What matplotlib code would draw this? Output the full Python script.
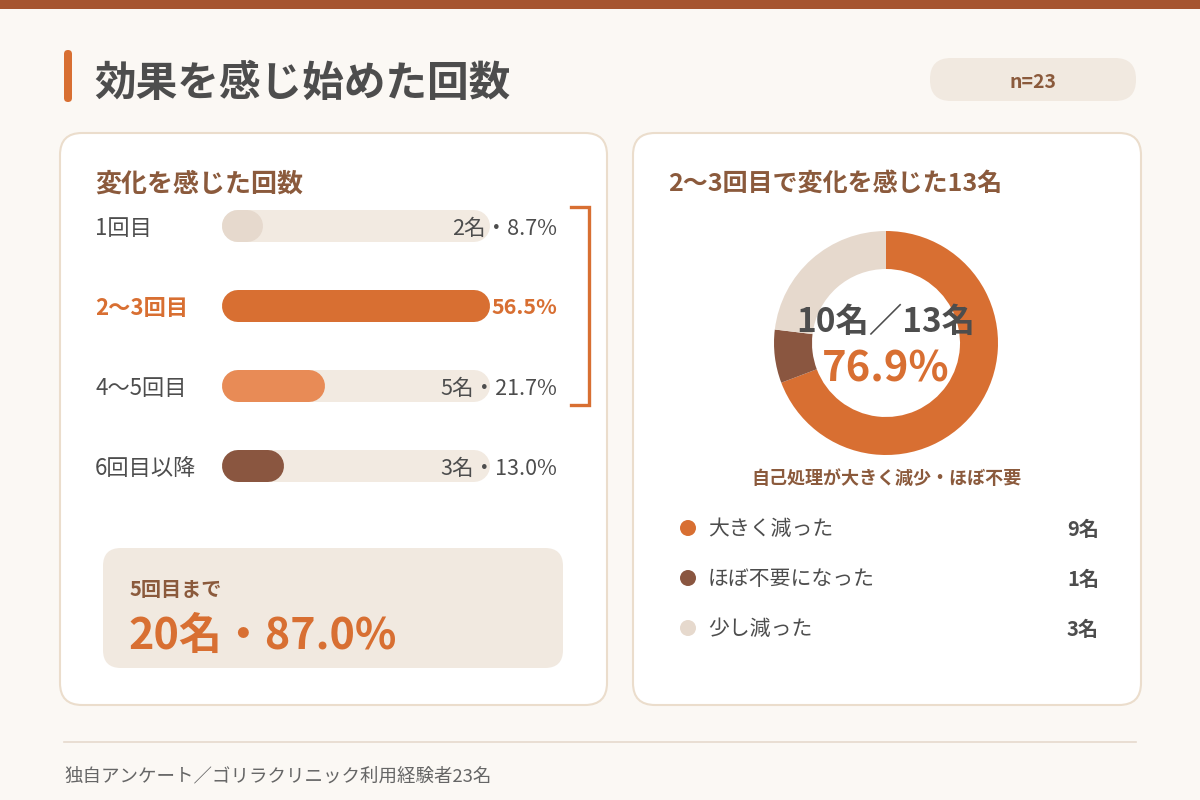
import matplotlib
matplotlib.use("Agg")
import matplotlib.pyplot as plt
from matplotlib.patches import FancyBboxPatch, Circle
from matplotlib.transforms import blended_transform_factory

plt.rcParams['font.family'] = ['Noto Sans CJK JP', 'DejaVu Sans']

# ---------------- data ----------------
title = "効果を感じ始めた回数"
n_label = "n=23"
bar_heading = "変化を感じた回数"
bar_categories = ["1回目", "2〜3回目", "4〜5回目", "6回目以降"]
bar_counts = [2, 13, 5, 3]
bar_percents = [8.7, 56.5, 21.7, 13.0]
bar_value_labels = ["2名・8.7%", "56.5%", "5名・21.7%", "3名・13.0%"]
highlight_index = 1
summary_label = "5回目まで"
summary_value = "20名・87.0%"

donut_heading = "2〜3回目で変化を感じた13名"
donut_labels = ["大きく減った", "ほぼ不要になった", "少し減った"]
donut_counts = [9, 1, 3]
donut_center_top = "10名／13名"
donut_center_pct = "76.9%"
donut_caption = "自己処理が大きく減少・ほぼ不要"
footer = "独自アンケート／ゴリラクリニック利用経験者23名"

# ---------------- colours ----------------
BG = "#FBF8F4"
TOPBAR = "#A65530"
ORANGE = "#D86F32"
LIGHT_ORANGE = "#E88B56"
DARK_BROWN = "#8A5640"
BEIGE = "#E6D9CD"
TRACK = "#F2EAE1"
BROWN_TXT = "#8B5A3C"
GRAY_TXT = "#4D4D4D"
BORDER = "#EBDDCC"

bar_colors = [BEIGE, ORANGE, LIGHT_ORANGE, DARK_BROWN]
donut_colors = [ORANGE, DARK_BROWN, BEIGE]

W, H = 1200, 800
fig = plt.figure(figsize=(12, 8), dpi=100, facecolor=BG)
main = fig.add_axes([0, 0, 1, 1])
main.set_xlim(0, W)
main.set_ylim(H, 0)
main.axis("off")
main.set_facecolor(BG)


def rbox(x, y, w, h, r, fc, ec="none", lw=0, z=1):
    p = FancyBboxPatch((x, y), w, h, boxstyle=f"round,pad=0,rounding_size={r}",
                       fc=fc, ec=ec, lw=lw, zorder=z)
    main.add_patch(p)
    return p


# top band
main.add_patch(plt.Rectangle((0, 0), W, 9, fc=TOPBAR, ec="none", zorder=2))

# cards / boxes
rbox(64, 50, 8, 52, 4, ORANGE, z=2)
rbox(930, 58, 206, 43, 21, "#F1E9E0", z=2)
rbox(60, 133, 547, 572, 22, "white", BORDER, 1.5, z=1)
rbox(633, 133, 508, 572, 22, "white", BORDER, 1.5, z=1)
rbox(103, 548, 460, 120, 18, "#F1E9E0", z=2)

# bracket over rows 0..2
main.plot([571, 589, 589, 571], [207, 207, 405, 405], color=ORANGE, lw=2.4,
          solid_joinstyle="miter", zorder=3)
# footer line
main.plot([64, 1136], [742, 742], color="#E6D9CD", lw=1.2, zorder=2)

# ---------------- bars ----------------
bx0, bx1 = 222, 490
by0, by1 = 186, 506
bar_ax = fig.add_axes([bx0 / W, 1 - by1 / H, (bx1 - bx0) / W, (by1 - by0) / H])
bar_ax.axis("off")
bar_ax.patch.set_alpha(0)
xmax = max(bar_percents)
bar_ax.set_xlim(0, xmax)
bar_ax.set_ylim(len(bar_categories) - 0.5, -0.5)

bar_h_px = 32
lw_pt = bar_h_px * 72 / 100
r_data = (bar_h_px / 2) * xmax / (bx1 - bx0)
for i, (v, c) in enumerate(zip(bar_percents, bar_colors)):
    bar_ax.plot([r_data, xmax - r_data], [i, i], color=TRACK, lw=lw_pt,
                solid_capstyle="round", zorder=1)
    bar_ax.plot([r_data, max(v - r_data, r_data + 1e-6)], [i, i], color=c, lw=lw_pt,
                solid_capstyle="round", zorder=2)

# ---------------- donut ----------------
cx, cy, R = 886, 343, 112
d_ax = fig.add_axes([(cx - R) / W, 1 - (cy + R) / H, 2 * R / W, 2 * R / H])
d_ax.pie(donut_counts, colors=donut_colors, startangle=90, counterclock=False,
         radius=1, wedgeprops=dict(width=38 / 112, edgecolor="none"))
d_ax.set_xlim(-1, 1)
d_ax.set_ylim(-1, 1)
d_ax.set_aspect("equal")
d_ax.axis("off")

# ---------------- overlay for all text ----------------
top = fig.add_axes([0, 0, 1, 1])
top.set_xlim(0, W)
top.set_ylim(H, 0)
top.axis("off")
top.patch.set_alpha(0)

top.text(94, 84, title, fontsize=30, fontweight="bold", color=GRAY_TXT,
         va="center", ha="left")
top.text(1033, 82, n_label, fontsize=14, fontweight="bold", color=BROWN_TXT,
         va="center", ha="center")

top.text(95, 184, bar_heading, fontsize=18.7, fontweight="bold", color=BROWN_TXT,
         va="center", ha="left")

tr = blended_transform_factory(top.transData, bar_ax.transData)
for i, (cat, lab) in enumerate(zip(bar_categories, bar_value_labels)):
    hl = i == highlight_index
    top.text(95, i, cat, transform=tr, fontsize=16,
             fontweight="bold" if hl else "normal",
             color=ORANGE if hl else GRAY_TXT, va="center_baseline", ha="left")
    top.text(557, i, lab, transform=tr, fontsize=15.5,
             fontweight="bold" if hl else "normal",
             color=ORANGE if hl else GRAY_TXT, va="center_baseline", ha="right")

top.text(130, 589, summary_label, fontsize=14.5, fontweight="bold", color=BROWN_TXT,
         va="center", ha="left")
top.text(128, 636, summary_value, fontsize=31, fontweight="bold", color=ORANGE,
         va="center", ha="left")

top.text(668, 184, donut_heading, fontsize=18, fontweight="bold", color=BROWN_TXT,
         va="center", ha="left")
top.text(cx, 322, donut_center_top, fontsize=24, fontweight="bold", color=GRAY_TXT,
         va="center", ha="center")
top.text(cx, 369, donut_center_pct, fontsize=30, fontweight="bold", color=ORANGE,
         va="center", ha="center")
top.text(cx, 478, donut_caption, fontsize=13, fontweight="bold", color=BROWN_TXT,
         va="center", ha="center")

for i, (lab, cnt, c) in enumerate(zip(donut_labels, donut_counts, donut_colors)):
    y = 528 + 50 * i
    top.add_patch(Circle((688, y), 8, fc=c, ec="none"))
    top.text(708, y + 1, lab, fontsize=15, color=GRAY_TXT, va="center", ha="left")
    top.text(1099, y + 1, f"{cnt}名", fontsize=14.5, fontweight="bold", color=GRAY_TXT,
             va="center", ha="right")

top.text(64, 776, footer, fontsize=13.3, color="#666666", va="center", ha="left")

fig.savefig("out.png", dpi=100, facecolor=BG)
